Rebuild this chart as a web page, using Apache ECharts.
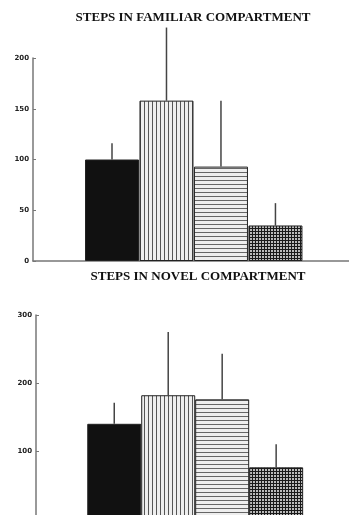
<!DOCTYPE html>
<html>
<head>
<meta charset="utf-8">
<script src="https://cdn.jsdelivr.net/npm/echarts@6/dist/echarts.min.js"></script>
<style>
html,body{margin:0;padding:0;background:#fff;}
#c{width:349px;height:515px;}
</style>
</head>
<body>
<div id="c"></div>
<script>
// ---- data ----
const groups = ['Group 1', 'Group 2', 'Group 3', 'Group 4'];
const familiarMeans = [100, 158, 93, 35];
const familiarSD = [16, 72, 65, 22];
const novelMeans = [140, 182, 176, 76];
const novelSD = [31, 93, 67, 34];
const familiarTicks = [0, 50, 100, 150, 200];
const novelTicks = [0, 100, 200, 300];
const titles = ['STEPS IN FAMILIAR COMPARTMENT', 'STEPS IN NOVEL COMPARTMENT'];

// ---- patterns ----
function makePattern(w, h, draw) {
  const c = document.createElement('canvas');
  c.width = w; c.height = h;
  const ctx = c.getContext('2d');
  draw(ctx, w, h);
  return { image: c, repeat: 'repeat' };
}
const vStripe = makePattern(4, 4, (ctx, w, h) => {
  ctx.fillStyle = '#eeeeee'; ctx.fillRect(0, 0, w, h);
  ctx.fillStyle = '#555555'; ctx.fillRect(0, 0, 1, h);
});
const hStripe = makePattern(4, 4, (ctx, w, h) => {
  ctx.fillStyle = '#eeeeee'; ctx.fillRect(0, 0, w, h);
  ctx.fillStyle = '#666666'; ctx.fillRect(0, 0, w, 1);
});
const checker = makePattern(3, 3, (ctx, w, h) => {
  ctx.fillStyle = '#bbbbbb'; ctx.fillRect(0, 0, w, h);
  ctx.fillStyle = '#1a1a1a'; ctx.fillRect(0, 0, 1, h); ctx.fillRect(0, 0, w, 1);
});
const fills = ['#111111', vStripe, hStripe, checker];

function barData(means) {
  return means.map((m, i) => ({ value: [i, m], itemStyle: { color: fills[i] } }));
}
function errData(means, sds) {
  return means.map((m, i) => [i, m, sds[i]]);
}
function renderErr(params, api) {
  const x = api.value(0), m = api.value(1), s = api.value(2);
  const p1 = api.coord([x, m]);
  const p2 = api.coord([x, m + s]);
  return { type: 'line', shape: { x1: p1[0], y1: p1[1], x2: p2[0], y2: p2[1] },
           style: { stroke: '#444', lineWidth: 1.5 } };
}

const axisLabelStyle = { fontFamily: 'DejaVu Sans', fontWeight: 'bold', fontSize: 7, color: '#222', margin: 4 };

const chart = echarts.init(document.getElementById('c'), null, { renderer: 'canvas' });
chart.setOption({
  animation: false,
  backgroundColor: '#fff',
  graphic: [
    { type: 'text', x: 193, y: 18, style: { text: titles[0], textAlign: 'center', textVerticalAlign: 'middle',
      font: 'bold 13px "Liberation Serif"', fill: '#111' } },
    { type: 'text', x: 198, y: 277, style: { text: titles[1], textAlign: 'center', textVerticalAlign: 'middle',
      font: 'bold 13px "Liberation Serif"', fill: '#111' } }
  ],
  grid: [
    { left: 33, top: 58, width: 316, height: 203, outerBoundsMode: 'none', containLabel: false },
    { left: 36, top: 315, width: 313, height: 204, outerBoundsMode: 'none', containLabel: false }
  ],
  xAxis: [0, 1].map(g => ({
    gridIndex: g, type: 'value', min: -1.45, max: 4.35,
    axisLine: { show: true, onZero: false, lineStyle: { color: '#777', width: 1.5 } },
    axisTick: { show: false }, axisLabel: { show: false }, splitLine: { show: false }
  })),
  yAxis: [
    { gridIndex: 0, type: 'value', min: familiarTicks[0], max: familiarTicks[familiarTicks.length - 1], interval: 50,
      axisLine: { show: true, onZero: false, lineStyle: { color: '#777', width: 1.5 } },
      axisTick: { show: true, inside: true, length: 3, lineStyle: { color: '#777' } },
      axisLabel: axisLabelStyle, splitLine: { show: false } },
    { gridIndex: 1, type: 'value', min: novelTicks[0], max: novelTicks[novelTicks.length - 1], interval: 100,
      axisLine: { show: true, onZero: false, lineStyle: { color: '#777', width: 1.5 } },
      axisTick: { show: true, inside: true, length: 3, lineStyle: { color: '#777' } },
      axisLabel: axisLabelStyle, splitLine: { show: false } }
  ],
  series: [
    { type: 'bar', xAxisIndex: 0, yAxisIndex: 0, barWidth: 54, data: barData(familiarMeans),
      itemStyle: { borderColor: '#222', borderWidth: 1 } },
    { type: 'custom', xAxisIndex: 0, yAxisIndex: 0, renderItem: renderErr, clip: false,
      encode: { x: 0, y: 1 }, data: errData(familiarMeans, familiarSD), z: 1 },
    { type: 'bar', xAxisIndex: 1, yAxisIndex: 1, barWidth: 54, data: barData(novelMeans),
      itemStyle: { borderColor: '#222', borderWidth: 1 } },
    { type: 'custom', xAxisIndex: 1, yAxisIndex: 1, renderItem: renderErr, clip: false,
      encode: { x: 0, y: 1 }, data: errData(novelMeans, novelSD), z: 1 }
  ]
});
</script>
</body>
</html>
